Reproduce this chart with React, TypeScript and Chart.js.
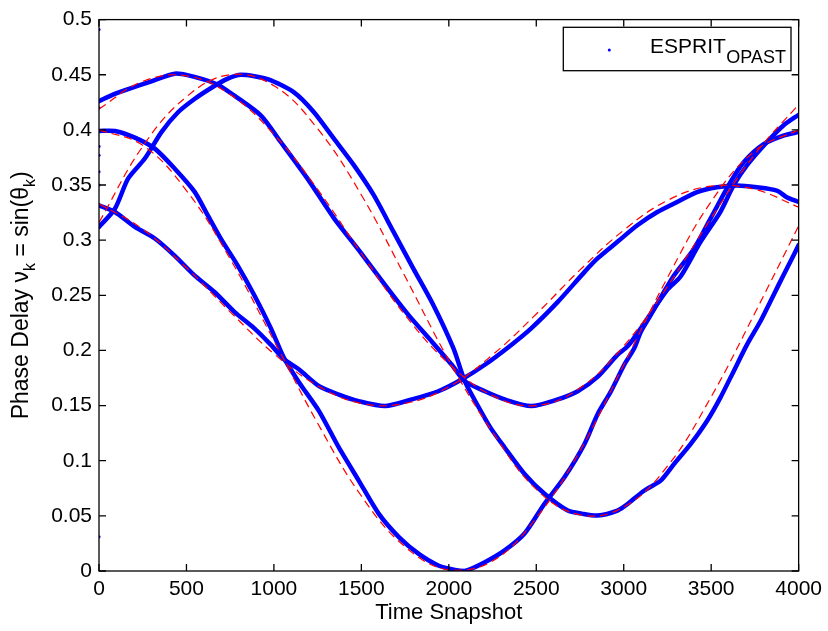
import React, { useEffect, useRef } from "react";
import { Chart, registerables } from "chart.js";

Chart.register(...registerables);

// ---------- axis ticks ----------
const X_TICKS = [0, 500, 1000, 1500, 2000, 2500, 3000, 3500, 4000];
const X_TICK_LABELS = ["0", "500", "1000", "1500", "2000", "2500", "3000", "3500", "4000"];
const Y_TICKS = [0, 0.05, 0.1, 0.15, 0.2, 0.25, 0.3, 0.35, 0.4, 0.45, 0.5];
const Y_TICK_LABELS = ["0", "0.05", "0.1", "0.15", "0.2", "0.25", "0.3", "0.35", "0.4", "0.45", "0.5"];

// ---------- true trajectories (red dashed) ----------
const TRUE_T = [0, 250, 500, 750, 1000, 1250, 1500, 1750, 2000, 2250, 2500, 2750, 3000, 3250, 3500, 3750, 4000];
const TRUE_1 = [0.419, 0.444, 0.449, 0.432, 0.396, 0.346, 0.288, 0.232, 0.188, 0.159, 0.150, 0.166, 0.204, 0.258, 0.320, 0.378, 0.423];
const TRUE_2 = [0.316, 0.385, 0.430, 0.450, 0.440, 0.401, 0.341, 0.267, 0.191, 0.126, 0.074, 0.051, 0.058, 0.095, 0.158, 0.234, 0.313];
const TRUE_3 = [0.400, 0.386, 0.345, 0.283, 0.209, 0.134, 0.068, 0.022, 0.001, 0.009, 0.048, 0.109, 0.187, 0.266, 0.335, 0.381, 0.400];
const TRUE_4 = [0.333, 0.310, 0.275, 0.235, 0.197, 0.168, 0.152, 0.152, 0.167, 0.196, 0.233, 0.273, 0.309, 0.336, 0.349, 0.346, 0.330];

// ---------- ESPRIT-OPAST estimates (blue) ----------
const EST_1_T = [0, 80, 167, 300, 434, 546, 679, 774, 926, 1039, 1191, 1343, 1495, 1637, 1770, 1903, 2017, 2092, 2206, 2319, 2471, 2623, 2737, 2850, 2964, 3022, 3098, 3174, 3249, 3325, 3439, 3552, 3628, 3704, 3818, 3913, 4000];
const EST_1_V = [0.426, 0.432, 0.437, 0.444, 0.451, 0.448, 0.441, 0.431, 0.413, 0.389, 0.356, 0.320, 0.289, 0.259, 0.232, 0.208, 0.187, 0.172, 0.163, 0.1556, 0.1496, 0.1556, 0.163, 0.176, 0.196, 0.2037, 0.220, 0.238, 0.255, 0.267, 0.2985, 0.3255, 0.3496, 0.3677, 0.3887, 0.404, 0.4137];

const EST_2_T = [0, 91, 167, 262, 357, 452, 546, 641, 730, 812, 964, 1115, 1229, 1343, 1457, 1570, 1684, 1798, 1912, 2026, 2092, 2162, 2238, 2319, 2433, 2547, 2680, 2760, 2850, 2964, 3022, 3116, 3211, 3287, 3382, 3476, 3552, 3628, 3704, 3780, 3837, 3884, 3951, 4000];
const EST_2_V = [0.312, 0.3285, 0.356, 0.374, 0.398, 0.416, 0.428, 0.438, 0.446, 0.450, 0.446, 0.434, 0.416, 0.392, 0.368, 0.341, 0.3075, 0.274, 0.241, 0.202, 0.172, 0.151, 0.130, 0.112, 0.088, 0.070, 0.0548, 0.052, 0.0503, 0.0548, 0.0608, 0.0728, 0.0819, 0.0969, 0.115, 0.136, 0.157, 0.181, 0.205, 0.226, 0.244, 0.259, 0.280, 0.2955];

const EST_3_T = [0, 91, 205, 319, 432, 546, 622, 698, 793, 888, 983, 1058, 1144, 1258, 1371, 1485, 1599, 1713, 1826, 1940, 2035, 2092, 2206, 2319, 2433, 2547, 2661, 2775, 2850, 2927, 3003, 3060, 3098, 3154, 3230, 3287, 3401, 3496, 3610, 3686, 3800, 3913, 4000];
const EST_3_V = [0.399, 0.399, 0.393, 0.383, 0.365, 0.344, 0.3225, 0.301, 0.277, 0.250, 0.220, 0.193, 0.171, 0.145, 0.112, 0.082, 0.052, 0.031, 0.0157, 0.005, 0.001, 0.0, 0.008, 0.0187, 0.034, 0.061, 0.085, 0.115, 0.142, 0.163, 0.187, 0.202, 0.217, 0.232, 0.253, 0.268, 0.292, 0.3195, 0.3526, 0.3707, 0.387, 0.3948, 0.398];

const EST_4_T = [0, 91, 205, 319, 432, 546, 660, 774, 888, 983, 1058, 1144, 1258, 1371, 1485, 1637, 1789, 1940, 2073, 2206, 2357, 2471, 2623, 2775, 2850, 2964, 3078, 3192, 3305, 3419, 3533, 3647, 3761, 3875, 3932, 4000];
const EST_4_V = [0.3316, 0.3255, 0.312, 0.3015, 0.286, 0.268, 0.253, 0.235, 0.220, 0.205, 0.192, 0.1827, 0.1676, 0.160, 0.154, 0.1496, 0.1556, 0.163, 0.1736, 0.187, 0.205, 0.220, 0.244, 0.271, 0.2834, 0.2985, 0.3135, 0.3255, 0.3346, 0.3436, 0.348, 0.3496, 0.348, 0.345, 0.339, 0.3346];

// initial transient estimates at snapshot 0
const STRAY_T = [0, 0, 0, 0, 0, 0, 0];
const STRAY_V = [0.491, 0.42, 0.385, 0.377, 0.362, 0.35, 0.031];

const FONT = "'Liberation Sans', Arial, Helvetica, sans-serif";
const BLUE = "#0000ff";
const RED = "#ff0000";

function pairs(ts: number[], vs: number[]) {
  return ts.map((t, i) => ({ x: t, y: vs[i] }));
}

const decorPlugin = {
  id: "decor",
  afterDraw(chart: any) {
    const { ctx, chartArea: a, scales } = chart;
    ctx.save();
    // frame + inward ticks
    ctx.strokeStyle = "#000";
    ctx.lineWidth = 1.3;
    ctx.strokeRect(a.left, a.top, a.right - a.left, a.bottom - a.top);
    ctx.beginPath();
    X_TICKS.forEach((v) => {
      const px = scales.x.getPixelForValue(v);
      ctx.moveTo(px, a.bottom);
      ctx.lineTo(px, a.bottom - 7);
      ctx.moveTo(px, a.top);
      ctx.lineTo(px, a.top + 7);
    });
    Y_TICKS.forEach((v) => {
      const py = scales.y.getPixelForValue(v);
      ctx.moveTo(a.left, py);
      ctx.lineTo(a.left + 7, py);
      ctx.moveTo(a.right, py);
      ctx.lineTo(a.right - 7, py);
    });
    ctx.stroke();

    // legend
    const lx = 563.3, ly = 27.3, lw = 227.7, lh = 43.4;
    ctx.fillStyle = "#fff";
    ctx.fillRect(lx, ly, lw, lh);
    ctx.strokeRect(lx, ly, lw, lh);
    ctx.fillStyle = BLUE;
    ctx.beginPath();
    ctx.arc(609.3, 50, 1.5, 0, Math.PI * 2);
    ctx.fill();
    ctx.fillStyle = "#000";
    ctx.textAlign = "left";
    ctx.textBaseline = "alphabetic";
    ctx.font = `21px ${FONT}`;
    ctx.fillText("ESPRIT", 650, 52.7);
    const w1 = ctx.measureText("ESPRIT").width;
    ctx.font = `18px ${FONT}`;
    ctx.fillText("OPAST", 650 + w1 + 0.5, 62.7);

    // x label
    ctx.font = `22px ${FONT}`;
    ctx.textAlign = "center";
    ctx.fillText("Time Snapshot", (a.left + a.right) / 2, 619);

    // y label with subscripts
    const parts: [string, boolean][] = [
      ["Phase Delay \u03bd", false],
      ["k", true],
      [" = sin(\u03b8", false],
      ["k", true],
      [")", false],
    ];
    const mainFont = `23px ${FONT}`;
    const subFont = `16px ${FONT}`;
    let total = 0;
    const widths = parts.map(([s, sub]) => {
      ctx.font = sub ? subFont : mainFont;
      const w = ctx.measureText(s).width;
      total += w;
      return w;
    });
    ctx.translate(28, (a.top + a.bottom) / 2);
    ctx.rotate(-Math.PI / 2);
    ctx.textAlign = "left";
    let x = -total / 2;
    parts.forEach(([s, sub], i) => {
      ctx.font = sub ? subFont : mainFont;
      ctx.fillText(s, x, sub ? 7 : 0);
      x += widths[i];
    });
    ctx.restore();
  },
};

export default function App() {
  const ref = useRef<HTMLCanvasElement>(null);

  useEffect(() => {
    if (!ref.current) return;
    const redDs = (vals: number[]) => ({
      data: pairs(TRUE_T, vals),
      borderColor: RED,
      borderWidth: 1.2,
      borderDash: [8, 5],
      pointRadius: 0,
      tension: 0.4,
      fill: false,
      order: 0,
    });
    const blueDs = (ts: number[], vs: number[]) => ({
      data: pairs(ts, vs),
      borderColor: BLUE,
      borderWidth: 4.5,
      borderJoinStyle: "round" as const,
      borderCapStyle: "round" as const,
      pointRadius: 0,
      tension: 0.25,
      fill: false,
      order: 1,
    });
    const chart = new Chart(ref.current, {
      type: "line",
      data: {
        datasets: [
          redDs(TRUE_1),
          redDs(TRUE_2),
          redDs(TRUE_3),
          redDs(TRUE_4),
          blueDs(EST_1_T, EST_1_V),
          blueDs(EST_2_T, EST_2_V),
          blueDs(EST_3_T, EST_3_V),
          blueDs(EST_4_T, EST_4_V),
          {
            data: pairs(STRAY_T, STRAY_V),
            showLine: false,
            pointRadius: 1.6,
            pointBackgroundColor: BLUE,
            pointBorderWidth: 0,
            borderColor: BLUE,
            order: 1,
          } as any,
        ],
      },
      options: {
        responsive: false,
        animation: false,
        devicePixelRatio: 1,
        layout: { padding: { top: 17, right: 26, left: 0, bottom: 0 } },
        plugins: { legend: { display: false }, tooltip: { enabled: false } },
        scales: {
          x: {
            type: "linear",
            min: 0,
            max: 4000,
            afterBuildTicks: (s: any) => {
              s.ticks = X_TICKS.map((v) => ({ value: v }));
            },
            afterFit: (s: any) => {
              s.height = 60;
            },
            grid: { display: false, drawTicks: false },
            border: { display: false },
            ticks: {
              padding: 6,
              color: "#000",
              font: { family: FONT, size: 21 },
              maxRotation: 0,
              autoSkip: false,
              callback: (_v: any, i: number) => X_TICK_LABELS[i],
            },
          },
          y: {
            type: "linear",
            min: 0,
            max: 0.5,
            afterBuildTicks: (s: any) => {
              s.ticks = Y_TICKS.map((v) => ({ value: v }));
            },
            afterFit: (s: any) => {
              s.width = 99;
            },
            grid: { display: false, drawTicks: false },
            border: { display: false },
            ticks: {
              padding: 7,
              color: "#000",
              font: { family: FONT, size: 21 },
              autoSkip: false,
              callback: (_v: any, i: number) => Y_TICK_LABELS[i],
            },
          },
        },
      } as any,
      plugins: [decorPlugin],
    });
    return () => chart.destroy();
  }, []);

  return (
    <div style={{ position: "fixed", left: 0, top: 0, width: 828, height: 631, background: "#fff" }}>
      <canvas ref={ref} width={828} height={631} style={{ display: "block", width: 828, height: 631 }} />
    </div>
  );
}
